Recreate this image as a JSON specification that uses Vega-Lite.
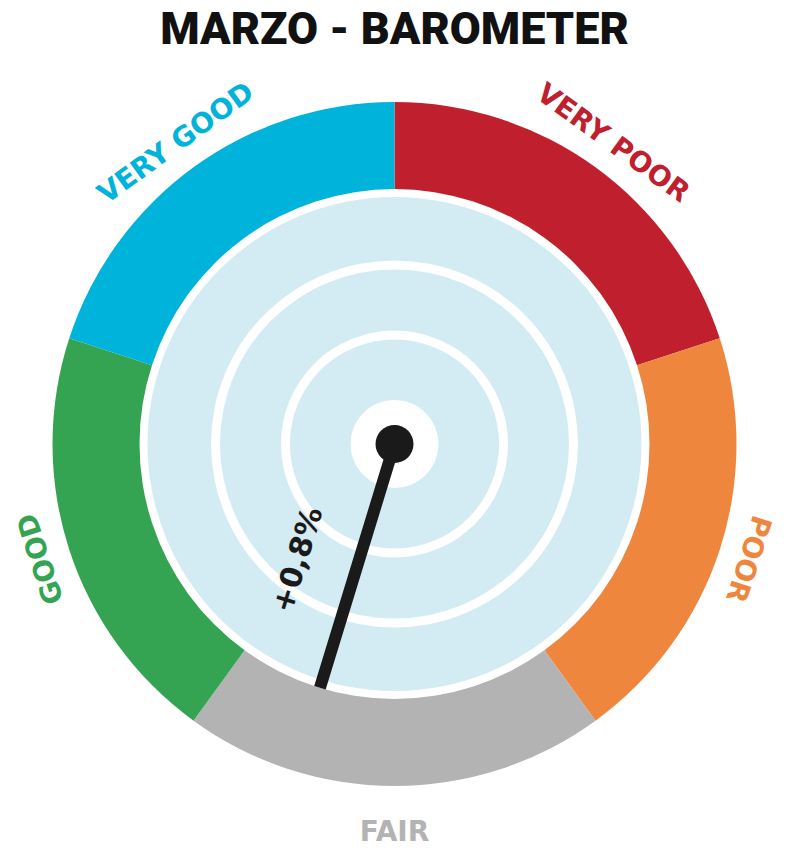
{
  "$schema": "https://vega.github.io/schema/vega-lite/v6.json",
  "width": 789,
  "height": 830,
  "autosize": {"type": "none"},
  "padding": {"top": 29, "left": 0, "right": 0, "bottom": 0},
  "background": "white",
  "config": {"view": {"stroke": null}},
  "title": {
    "text": "MARZO - BAROMETER",
    "font": "Roboto",
    "fontWeight": 900,
    "fontSize": 45,
    "color": "#111111",
    "anchor": "middle",
    "frame": "group",
    "baseline": "alphabetic",
    "offset": -60
  },
  "datasets": {
    "segments": [
      {"rank": 1, "label": "VERY POOR", "share": 72},
      {"rank": 2, "label": "POOR", "share": 72},
      {"rank": 3, "label": "FAIR", "share": 72},
      {"rank": 4, "label": "GOOD", "share": 72},
      {"rank": 5, "label": "VERY GOOD", "share": 72}
    ],
    "dial": [
      {"needle_deg": 197, "reading": "+0,8%"}
    ]
  },
  "data": {"name": "segments"},
  "layer": [
    {
      "mark": {"type": "arc", "radius": 342, "radius2": 255, "stroke": null},
      "encoding": {
        "theta": {"field": "share", "type": "quantitative", "stack": true, "scale": {"domain": [0, 360]}},
        "order": {"field": "rank", "type": "quantitative"},
        "color": {
          "field": "label", "type": "nominal",
          "scale": {"domain": ["VERY POOR", "POOR", "FAIR", "GOOD", "VERY GOOD"], "range": ["#c0202e", "#ee873d", "#b3b3b3", "#34a453", "#00b3db"]},
          "legend": null
        }
      }
    },
    {
      "data": {"name": "dial"},
      "mark": {"type": "arc", "radius": 247, "theta": 0, "theta2": 6.2832, "fill": "#d3ebf3", "stroke": null},
      "encoding": {}
    },
    {
      "data": {"name": "dial"},
      "mark": {"type": "arc", "radius": 183.5, "radius2": 174.5, "theta": 0, "theta2": 6.2832, "fill": "#ffffff", "stroke": null},
      "encoding": {}
    },
    {
      "data": {"name": "dial"},
      "mark": {"type": "arc", "radius": 113.5, "radius2": 104.5, "theta": 0, "theta2": 6.2832, "fill": "#ffffff", "stroke": null},
      "encoding": {}
    },
    {
      "data": {"name": "dial"},
      "mark": {"type": "arc", "radius": 44, "theta": 0, "theta2": 6.2832, "fill": "#ffffff", "stroke": null},
      "encoding": {}
    },
    {
      "data": {"name": "dial"},
      "mark": {"type": "arc", "radius": 255, "filled": false, "fill": null, "stroke": "#1a1a1a", "strokeWidth": 12, "strokeJoin": "bevel"},
      "encoding": {
        "theta": {"field": "needle_deg", "type": "quantitative", "stack": null, "scale": {"domain": [0, 360]}},
        "theta2": {"field": "needle_deg"}
      }
    },
    {
      "data": {"name": "dial"},
      "mark": {"type": "arc", "radius": 19, "theta": 0, "theta2": 6.2832, "fill": "#1a1a1a", "stroke": null},
      "encoding": {}
    },
    {
      "mark": {"type": "text", "radius": 380, "dy": 9, "font": "DejaVu Sans", "fontWeight": "bold", "fontSize": 28, "align": "center", "baseline": "middle"},
      "encoding": {
        "theta": {"field": "share", "type": "quantitative", "stack": true, "scale": {"domain": [0, 360]}},
        "order": {"field": "rank", "type": "quantitative"},
        "text": {"field": "label", "type": "nominal"},
        "color": {"field": "label", "type": "nominal", "legend": null},
        "angle": {
          "condition": [
            {"test": "datum.label === 'VERY POOR'", "value": 36},
            {"test": "datum.label === 'POOR'", "value": 108},
            {"test": "datum.label === 'GOOD'", "value": -108},
            {"test": "datum.label === 'VERY GOOD'", "value": -36}
          ],
          "value": 0
        }
      }
    },
    {
      "data": {"name": "dial"},
      "mark": {"type": "text", "radius": 139, "angle": -73, "dy": -58, "font": "DejaVu Sans", "fontWeight": "bold", "fontSize": 30, "color": "#1a1a1a", "align": "center", "baseline": "middle"},
      "encoding": {
        "theta": {"field": "needle_deg", "type": "quantitative", "stack": null, "scale": {"domain": [0, 360]}},
        "text": {"field": "reading", "type": "nominal"}
      }
    }
  ]
}
